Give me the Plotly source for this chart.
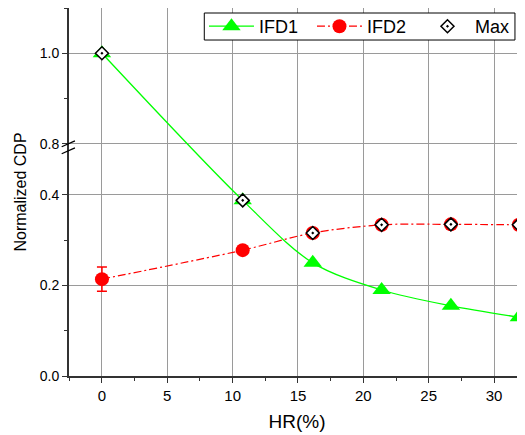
import plotly.graph_objects as go

# ---- data ----
hr = [0, 10.77, 16.13, 21.4, 26.7, 31.9]
ifd1 = [1.0, 0.388, 0.250, 0.190, 0.155, 0.130]
ifd2 = [0.214, 0.278, 0.316, 0.334, 0.335, 0.334]
ifd2_err = [0.027, 0, 0, 0, 0, 0]
max_x = [0, 10.77, 16.13, 21.4, 26.7, 31.9]
max_y = [1.0, 0.388, 0.316, 0.334, 0.335, 0.334]

y_ticks = [0.0, 0.2, 0.4, 0.8, 1.0]
y_minor = [0.1, 0.3, 0.9, 1.1]
x_ticks = [0, 5, 10, 15, 20, 25, 30]
x_minor = [-2.5, 2.5, 7.5, 12.5, 17.5, 22.5, 27.5]

# broken y-axis: lower segment 0-0.5, upper segment 0.8-1.1
BREAK_LO, BREAK_HI, GAP = 0.5, 0.8, 0.013


def t(v):
    if v <= BREAK_LO:
        return v
    return v - (BREAK_HI - BREAK_LO) + GAP


FONT = "Liberation Sans, Arial, sans-serif"
fig = go.Figure()

fig.add_trace(go.Scatter(
    x=hr, y=[t(v) for v in ifd1], name="IFD1", mode="lines+markers",
    line=dict(color="#00FF00", width=1.3, shape="spline", smoothing=0.9),
    marker=dict(symbol="triangle-up", size=16, color="#00FF00"),
))
fig.add_trace(go.Scatter(
    x=hr, y=[t(v) for v in ifd2], name="IFD2", mode="lines+markers",
    line=dict(color="#FF0000", width=1.2, shape="spline", smoothing=0.9, dash="8px,3px,2px,3px"),
    marker=dict(symbol="circle", size=14, color="#FF0000"),
    error_y=dict(type="data", array=ifd2_err, visible=True, color="#FF0000", thickness=1.5, width=5),
))
fig.add_trace(go.Scatter(
    x=max_x, y=[t(v) for v in max_y], name="Max", mode="markers",
    marker=dict(symbol="diamond-dot", size=10, color="white", line=dict(color="black", width=1.5)),
))

# axis break marks
y08 = t(0.8)
for dy in (0.0, -0.0155):
    fig.add_shape(type="line", xref="paper", yref="y",
                  x0=-0.016, x1=0.013, y0=y08 - 0.0065 + dy, y1=y08 + 0.0065 + dy,
                  line=dict(color="black", width=1.3))

# legend frame
fig.add_shape(type="rect", xref="paper", yref="paper", x0=0.2967, x1=0.978, y0=0.913, y1=0.9864,
              fillcolor="white", line=dict(color="black", width=1), layer="above")

fig.update_layout(
    width=525, height=435,
    margin=dict(l=61, r=8, t=0, b=67, autoexpand=False),
    plot_bgcolor="white", paper_bgcolor="white",
    font=dict(family=FONT, color="black", size=14),
    showlegend=True,
    legend=dict(orientation="h", x=0.296, xanchor="left", y=1.0, yanchor="top",
                bgcolor="rgba(0,0,0,0)", borderwidth=0,
                font=dict(size=18, family=FONT), itemwidth=45, entrywidth=48,
                traceorder="normal"),
    xaxis=dict(range=[-2.52, 32.37], tickvals=x_ticks, ticks="outside", ticklen=5, tickwidth=1,
               tickcolor="#333", showline=True, linecolor="#333", linewidth=2,
               showgrid=True, gridcolor="#9a9a9a", gridwidth=1, zeroline=False,
               minor=dict(tickvals=x_minor, ticks="outside",
                          ticklen=3, tickcolor="#333", showgrid=False),
               title=dict(text="HR(%)", font=dict(size=19), standoff=12),
               tickfont=dict(size=15)),
    yaxis=dict(range=[0, t(1.1)], tickvals=[t(v) for v in y_ticks],
               ticktext=[f"{v:.1f}" for v in y_ticks], ticks="outside", ticklen=5,
               tickcolor="#333", showline=True, linecolor="#333", linewidth=2,
               showgrid=True, gridcolor="#9a9a9a", gridwidth=1, zeroline=False,
               minor=dict(tickvals=[t(v) for v in y_minor], ticks="outside", ticklen=3,
                          tickcolor="#333", showgrid=False),
               title=dict(text="Normalized CDP", font=dict(size=16), standoff=9),
               tickfont=dict(size=14)),
)

fig.write_html("out.html")
